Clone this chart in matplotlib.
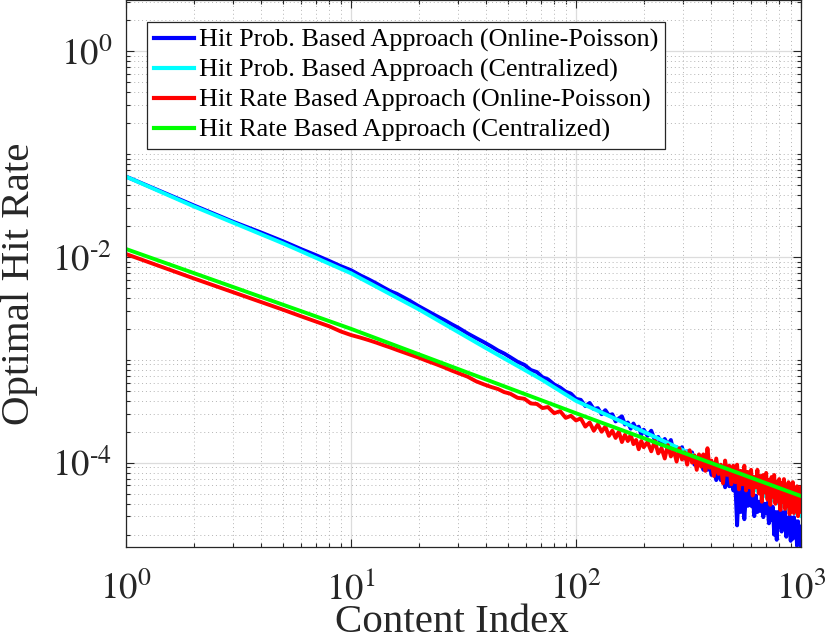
import numpy as np
import matplotlib
matplotlib.use('Agg')
import matplotlib.pyplot as plt
from matplotlib.ticker import FixedLocator, FixedFormatter, NullFormatter

plt.rcParams['mathtext.fontset'] = 'stix'
plt.rcParams['font.family'] = ['Liberation Serif', 'DejaVu Serif']

series_labels = ['Hit Prob. Based Approach (Online-Poisson)',
                 'Hit Prob. Based Approach (Centralized)',
                 'Hit Rate Based Approach (Online-Poisson)',
                 'Hit Rate Based Approach (Centralized)']

# sample indices for the online (noisy) curves
online_idx = ([1, 2, 3, 4, 5, 6, 7, 8, 9, 10, 11, 12, 13, 14, 15, 16, 18, 20, 22, 24, 26, 28, 30,
               33, 36, 39, 42, 45, 48, 51, 55, 59, 63, 67, 71, 75, 80, 85, 90, 95, 100]
              + list(range(105, 201, 5)) + list(range(208, 401, 8)) + list(range(410, 1001, 10)))

# log10 of hit rate
blue_log = [-1.22, -1.50, -1.66, -1.765, -1.85, -1.925, -1.985, -2.04, -2.09, -2.13, -2.18, -2.22,
            -2.26, -2.30, -2.335, -2.36, -2.42, -2.48, -2.53, -2.575, -2.615, -2.655, -2.69, -2.745,
            -2.79, -2.83, -2.87, -2.91, -2.94, -2.975, -3.02, -3.05, -3.10, -3.12, -3.17, -3.19,
            -3.24, -3.27, -3.31, -3.33, -3.38,
            -3.39, -3.45, -3.42, -3.48, -3.47, -3.53, -3.49, -3.54, -3.53, -3.60, -3.57, -3.55,
            -3.63, -3.61, -3.67, -3.62, -3.67, -3.65, -3.73, -3.68,
            -3.74, -3.69, -3.78, -3.75, -3.83, -3.77, -3.83, -3.78, -3.90, -3.85, -3.90, -3.85,
            -3.96, -3.89, -3.96, -3.90, -4.02, -3.96, -4.02, -3.96, -4.07, -4.01, -4.07, -4.01, -4.12,
            -4.06, -4.17, -4.08, -4.17, -4.12, -4.24, -4.13, -4.23, -4.17, -4.27,
            -4.18, -4.61, -4.22, -4.48, -4.24, -4.55, -4.29, -4.42, -4.27, -4.42,
            -4.32, -4.52, -4.32, -4.48, -4.38, -4.47, -4.34, -4.53, -4.40, -4.49,
            -4.39, -4.59, -4.43, -4.56, -4.43, -4.70, -4.48, -4.75, -4.48, -4.62,
            -4.46, -4.67, -4.49, -4.61, -4.47, -4.72, -4.54, -4.65, -4.52, -4.76,
            -4.54, -4.74, -4.53, -4.71, -4.57, -4.81, -4.57, -4.78, -4.62, -4.82]

red_log = [-1.973, -2.21, -2.345, -2.44, -2.515, -2.578, -2.63, -2.675, -2.725, -2.76, -2.785,
           -2.81, -2.835, -2.86, -2.882, -2.905, -2.945, -2.98, -3.015, -3.045, -3.075, -3.105,
           -3.13, -3.165, -3.21, -3.24, -3.265, -3.285, -3.315, -3.33, -3.37, -3.38, -3.425,
           -3.43, -3.47, -3.46, -3.52, -3.50, -3.565, -3.545, -3.59,
           -3.57, -3.65, -3.61, -3.69, -3.63, -3.70, -3.65, -3.74, -3.69, -3.76, -3.70, -3.80,
           -3.73, -3.79, -3.73, -3.82, -3.78, -3.87, -3.79, -3.85,
           -3.80, -3.89, -3.79, -3.91, -3.86, -3.96, -3.83, -3.94, -3.88, -3.99, -3.86, -3.97,
           -3.90, -4.02, -3.88, -4.00, -3.93, -4.07, -3.92, -4.04, -3.92, -4.08, -3.86, -4.05, -3.98,
           -4.13, -3.96, -4.11, -4.02, -4.20, -3.98, -4.12, -4.03, -4.21, -4.03,
           -4.19, -4.02, -4.26, -4.08, -4.21, -4.03, -4.27, -4.09, -4.24, -4.07,
           -4.32, -4.14, -4.24, -4.07, -4.30, -4.13, -4.38, -4.12, -4.29, -4.10,
           -4.36, -4.17, -4.41, -4.14, -4.33, -4.12, -4.40, -4.19, -4.37, -4.16,
           -4.46, -4.20, -4.38, -4.16, -4.45, -4.24, -4.42, -4.19, -4.50, -4.24,
           -4.40, -4.19, -4.49, -4.26, -4.46, -4.23, -4.52, -4.26, -4.48, -4.24]

cyan_idx = [1, 2, 5, 10, 20, 40, 70, 100, 200, 300, 500, 700, 1000]
cyan_log = [-1.221, -1.51, -1.87, -2.16, -2.51, -2.89, -3.19, -3.40, -3.70, -3.88, -4.13, -4.33, -4.52]

green_idx = [1, 10, 100, 1000]
green_log = [-1.924, -2.70, -3.52, -4.325]

colors = ['#0000FF', '#00FFFF', '#FF0000', '#00FF00']

W, H = 830, 642
fig = plt.figure(figsize=(W / 100, H / 100), dpi=100)
ax_left, ax_right, ax_top, ax_bot = 126, 801, 0, 546.7
ax = fig.add_axes([ax_left / W, 1 - ax_bot / H, (ax_right - ax_left) / W, (ax_bot - ax_top) / H])

lw = 2.8
ax.plot(online_idx, 10 ** np.array(blue_log), color=colors[0], lw=lw, label=series_labels[0])
ax.plot(cyan_idx, 10 ** np.array(cyan_log), color=colors[1], lw=lw, label=series_labels[1])
ax.plot(online_idx, 10 ** np.array(red_log), color=colors[2], lw=lw, label=series_labels[2])
ax.plot(green_idx, 10 ** np.array(green_log), color=colors[3], lw=lw, label=series_labels[3])

ax.set_xscale('log')
ax.set_yscale('log')
ax.set_xlim(1, 1000)
ax.set_ylim(10 ** -4.817, 10 ** 0.4956)

xmaj = [1, 10, 100, 1000]
ax.xaxis.set_major_locator(FixedLocator(xmaj))
ax.xaxis.set_major_formatter(FixedFormatter([r'$10^{%d}$' % k for k in range(4)]))
ax.xaxis.set_minor_locator(FixedLocator([m * 10 ** e for e in range(0, 3) for m in range(2, 10)]))
ax.xaxis.set_minor_formatter(NullFormatter())

ymaj = [1e-4, 1e-2, 1]
ax.yaxis.set_major_locator(FixedLocator(ymaj))
ax.yaxis.set_major_formatter(FixedFormatter([r'$10^{\text{-}4}$', r'$10^{\text{-}2}$', r'$10^{0}$']))
yminor = [m * 10.0 ** e for e in range(-5, 1) for m in range(1, 10)
          if not (m == 1 and e in (-4, -2, 0))]
ax.yaxis.set_minor_locator(FixedLocator(yminor))
ax.yaxis.set_minor_formatter(NullFormatter())

ax.grid(True, which='major', color='#dcdcdc', linestyle='-', linewidth=0.9)
ax.grid(True, which='minor', color='#b4b4b4', linestyle=(0, (1, 3)), linewidth=0.7)
ax.set_axisbelow(True)

axcol = '#262626'
for s in ax.spines.values():
    s.set_color(axcol)
    s.set_linewidth(0.9)
ax.tick_params(which='both', direction='in', top=True, right=True, colors=axcol, width=0.8)
ax.tick_params(which='major', length=5.5, labelsize=26.5)
ax.tick_params(which='minor', length=3)
ax.tick_params(axis='x', which='major', pad=18)
ax.tick_params(axis='y', which='major', pad=10)

fig.text(452 / W, 1 - 632 / H, 'Content Index', fontsize=29.5, ha='center', va='baseline', color=axcol)
fig.text(1 / W, 1 - 284 / H, 'Optimal Hit Rate', fontsize=29.5, rotation=90,
         ha='left', va='center', color=axcol)

leg = ax.legend(loc='upper left', bbox_to_anchor=(147 / W, 1 - 22 / H), bbox_transform=fig.transFigure,
                borderaxespad=0, fontsize=18.8, frameon=True, fancybox=False, framealpha=1,
                edgecolor=axcol, handlelength=1.55, handletextpad=0.2, labelspacing=0.24,
                borderpad=0.25)
leg.get_frame().set_linewidth(0.9)
for line in leg.get_lines():
    line.set_linewidth(3)

fig.savefig('out.png', dpi=100)
